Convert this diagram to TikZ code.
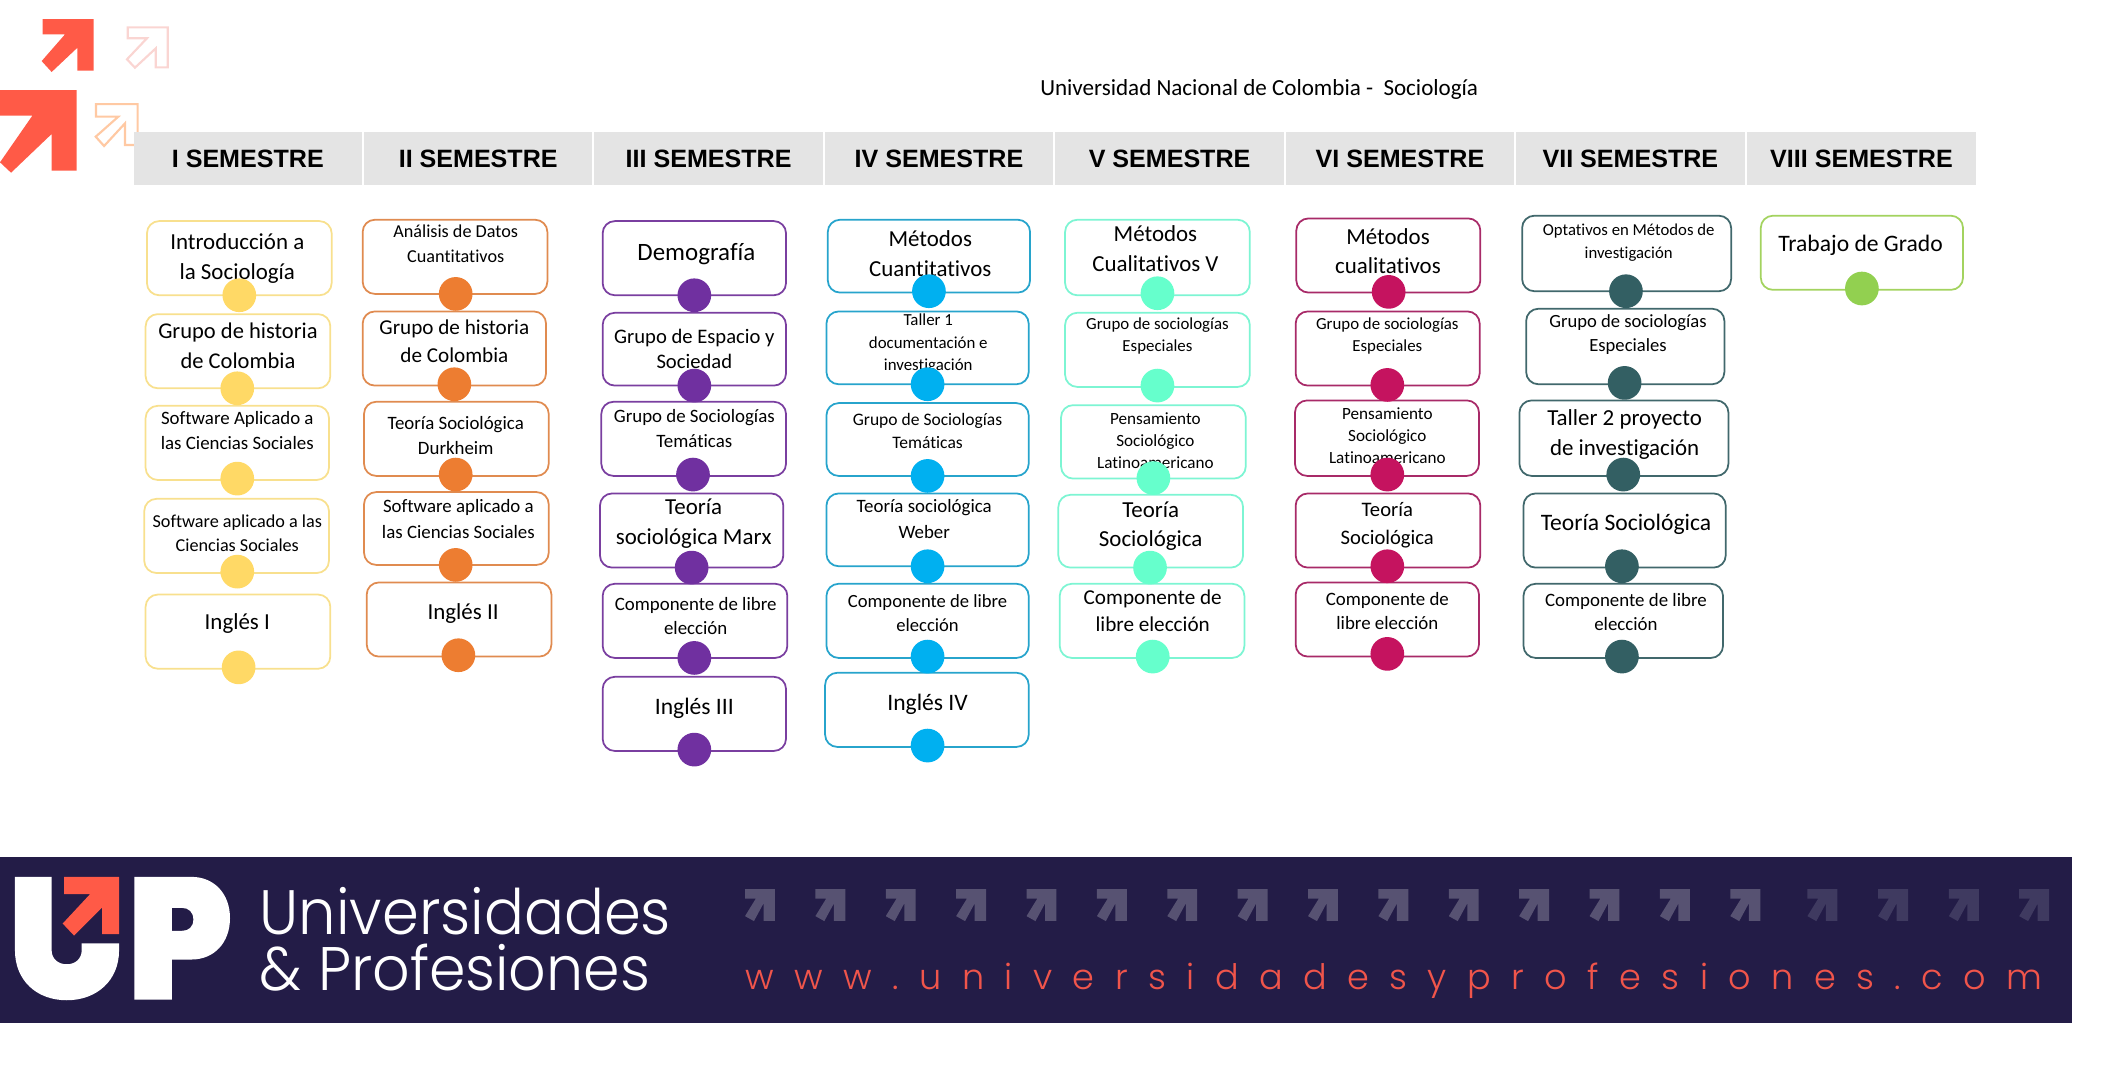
\documentclass[tikz,border=0pt]{standalone}
\usepackage{fontspec}
\setmainfont{Carlito}[Ligatures=NoCommon]
\newfontfamily\headfont{Liberation Sans}
\newfontfamily\popfont{Poppins}[UprightFont=* Light]
\newfontfamily\urlfont{Poppins}[UprightFont=* Light,LetterSpace=58.3]
\definecolor{yelB}{HTML}{F8E08E}\definecolor{yelC}{HTML}{FFD966}
\definecolor{oraB}{HTML}{E08B50}\definecolor{oraC}{HTML}{ED7D31}
\definecolor{purB}{HTML}{7A3FA0}\definecolor{purC}{HTML}{7030A0}
\definecolor{bluB}{HTML}{27A4CC}\definecolor{bluC}{HTML}{00B0F0}
\definecolor{minB}{HTML}{7DF5D3}\definecolor{minC}{HTML}{66FFCC}
\definecolor{magB}{HTML}{A82A68}\definecolor{magC}{HTML}{C5135F}
\definecolor{teaB}{HTML}{41686C}\definecolor{teaC}{HTML}{335F63}
\definecolor{verB}{HTML}{A3D35F}\definecolor{verC}{HTML}{92D050}
\definecolor{bannerC}{HTML}{231C47}
\definecolor{redC}{HTML}{FF5A47}
\definecolor{urlC}{HTML}{F0554B}
\definecolor{greyA}{HTML}{575272}
\definecolor{greyB}{HTML}{3F3A60}
\definecolor{headC}{HTML}{E4E4E4}
\definecolor{paleA}{HTML}{FAD5D2}
\definecolor{paleB}{HTML}{FFC9A3}
\tikzset{
  cajon/.style={rounded corners=9pt,line width=1.3pt,fill=white,inner sep=0pt},
  punto/.style={circle,minimum size=25pt,inner sep=0pt},
  rotulo/.style={inner sep=0pt,align=center,text=black},
  cabeza/.style={fill=headC,inner sep=0pt,minimum height=39pt,minimum width=169.4pt,
    font={\headfont\bfseries\fontsize{18.6}{22}\selectfont}},
}
\newcommand{\caja}[6]{%
  \pgfmathsetmacro{\cw}{#5-#3}\pgfmathsetmacro{\ch}{#6-#4}%
  \pgfmathsetmacro{\cx}{(#5+#3)/2}\pgfmathsetmacro{\cy}{(#6+#4)/2}%
  \node[cajon,draw=#2,minimum width=\cw pt,minimum height=\ch pt] (#1) at (\cx,\cy) {};}
\newcommand{\texto}[6]{%
  \pgfmathsetmacro{\ty}{#3+(#4>=15)*1.8}%
  \node[rotulo,font={\fontsize{#4}{#5}\selectfont}] (#1) at (#2,\ty) {#6};}
\newcommand{\bola}[4]{\node[punto,fill=#2] (#1) at (#3,#4) {};}
\newcommand{\gris}[3]{\fill[#2,shift={(#3,659.5)}] (0,0)--(22.2,0)--(22.2,23.5)--(13.7,23.5)--(13.7,10.6)--(6.6,23.7)--(0,20)--(8,7)--(0,7)--cycle;}
\begin{document}
\begin{tikzpicture}[x=1pt,y=-1pt]
\useasboundingbox (0,0) rectangle (1568,797.4);
% corner arrows
\fill[redC] (31.7,14.1)--(69.5,14.1)--(69.5,52.4)--(57.4,52.4)--(57.4,35.4)--(38.3,53.4)--(30.9,45.3)--(48.2,25.5)--(31.7,25.5)--cycle;
\fill[redC] (0,66.8)--(56.9,66.8)--(56.9,126.6)--(38.3,126.6)--(38.3,99.4)--(8.2,128.1)--(0,120.4)--(24,85.8)--(0,85.8)--cycle;
\draw[line width=1.6pt,draw=paleA] (94.7,20.3)--(124.4,20.3)--(124.4,50)--(115.5,50)--(115.5,35.9)--(100.1,50.2)--(94.2,44)--(109,28.4)--(94.7,28.4)--cycle;
\draw[line width=1.6pt,draw=paleB] (71.2,77.2)--(102.1,77.2)--(102.1,107.6)--(92.7,107.6)--(92.7,91.5)--(77.2,108.3)--(71,101.4)--(87.8,86.5)--(71.2,86.5)--cycle;
% title
\node[rotulo,font={\fontsize{17.1}{20}\selectfont}] (titulo) at (934,66) {Universidad Nacional de Colombia -\ \ Sociología};
% header
\node[cabeza] (h1) at (183.8,117.5) {I SEMESTRE};
\node[cabeza] (h2) at (354.7,117.5) {II SEMESTRE};
\node[cabeza] (h3) at (525.6,117.5) {III SEMESTRE};
\node[cabeza] (h4) at (696.5,117.5) {IV SEMESTRE};
\node[cabeza] (h5) at (867.5,117.5) {V SEMESTRE};
\node[cabeza] (h6) at (1038.4,117.5) {VI SEMESTRE};
\node[cabeza] (h7) at (1209.3,117.5) {VII SEMESTRE};
\node[cabeza] (h8) at (1380.7,117.5) {VIII SEMESTRE};
% column 1
\caja{a1}{yelB}{109}{164}{246}{219}\texto{ta1}{176}{190}{17}{22}{Introducción a\\la Sociología}
\caja{a2}{yelB}{108}{233}{245}{288}\texto{ta2}{176.5}{254.5}{16.7}{22}{Grupo de historia\\de Colombia}
\caja{a3}{yelB}{108}{301}{244}{356}\texto{ta3}{176}{319}{14}{18.5}{Software Aplicado a\\las Ciencias Sociales}
\caja{a4}{yelB}{107}{370}{244}{425}\texto{ta4}{176}{395.5}{13.5}{18.5}{Software aplicado a las\\Ciencias Sociales}
\caja{a5}{yelB}{108}{441}{245}{496}\texto{ta5}{176}{461}{17}{22}{Inglés I}
% column 2
\caja{b1}{oraB}{269}{163}{406}{218}\texto{tb1}{338}{181}{13.5}{18.5}{Análisis de Datos\\Cuantitativos}
\caja{b2}{oraB}{269}{231}{405}{286}\texto{tb2}{337}{251.5}{15.7}{20.5}{Grupo de historia\\de Colombia}
\caja{b3}{oraB}{270}{298}{407}{353}\texto{tb3}{338}{323}{14}{19}{Teoría Sociológica\\Durkheim}
\caja{b4}{oraB}{270}{365}{407}{419}\texto{tb4}{340}{385}{14}{19}{Software aplicado a\\las Ciencias Sociales}
\caja{b5}{oraB}{272}{432}{409}{487}\texto{tb5}{343.5}{453.5}{17}{22}{Inglés II}
% column 3
\caja{c1}{purB}{447}{164}{583}{219}\texto{tc1}{516.5}{187}{18.5}{22}{Demografía}
\caja{c2}{purB}{447}{232}{583}{286}\texto{tc2}{515}{257}{15.3}{19}{Grupo de Espacio y\\Sociedad}
\caja{c3}{purB}{446}{298}{583}{353}\texto{tc3}{515}{318}{14}{18.5}{Grupo de Sociologías\\Temáticas}
\caja{c4}{purB}{445}{366}{581}{421}\texto{tc4}{514.5}{386.5}{17}{22}{Teoría\\sociológica Marx}
\caja{c5}{purB}{447}{433}{584}{488}\texto{tc5}{516}{457}{14}{18}{Componente de libre\\elección}
\caja{c6}{purB}{447}{502}{583}{557}\texto{tc6}{515}{523.5}{17.5}{22}{Inglés III}
% column 4
\caja{d1}{bluB}{614}{163}{764}{217}\texto{td1}{690}{186.5}{17}{22}{Métodos\\Cuantitativos}
\caja{d2}{bluB}{613}{231}{763}{285}\texto{td2}{688.5}{255}{12.5}{16.5}{Taller 1\\documentación e\\investigación}
\caja{d3}{bluB}{613}{299}{763}{353}\texto{td3}{688}{320}{13}{17}{Grupo de Sociologías\\Temáticas}
\caja{d4}{bluB}{613}{366}{763}{420}\texto{td4}{685.5}{385}{14}{19}{Teoría sociológica\\Weber}
\caja{d5}{bluB}{613}{433}{763}{488}\texto{td5}{688}{455}{13.8}{18}{Componente de libre\\elección}
\caja{d6}{bluB}{612}{499}{763}{554}\texto{td6}{688}{520.5}{17.5}{22}{Inglés IV}
% column 5
\caja{e1}{minB}{790}{163}{927}{219}\texto{te1}{857}{182.5}{17}{22}{Métodos\\Cualitativos V}
\caja{e2}{minB}{790}{232}{927}{287}\texto{te2}{858.5}{249}{12.5}{16.5}{Grupo de sociologías\\Especiales}
\caja{e3}{minB}{787}{300.5}{924}{355}\texto{te3}{857}{327}{12.7}{16.5}{Pensamiento\\Sociológico\\Latinoamericano}
\caja{e4}{minB}{785}{367}{922}{421}\texto{te4}{853.5}{388.5}{17}{22}{Teoría\\Sociológica}
\caja{e5}{minB}{786}{433}{923}{488}\texto{te5}{855}{451.5}{15.7}{20}{Componente de\\libre elección}
% column 6
\caja{f1}{magB}{961.5}{162}{1098}{217}\texto{tf1}{1029.5}{184.5}{17}{22}{Métodos\\cualitativos}
\caja{f2}{magB}{961}{231}{1097.5}{286}\texto{tf2}{1029}{249}{12.5}{16.5}{Grupo de sociologías\\Especiales}
\caja{f3}{magB}{960.5}{297}{1097}{353}\texto{tf3}{1029}{323}{12.7}{16.5}{Pensamiento\\Sociológico\\Latinoamericano}
\caja{f4}{magB}{961}{366}{1098}{421}\texto{tf4}{1029}{388}{15.3}{20.5}{Teoría\\Sociológica}
\caja{f5}{magB}{961}{432}{1097}{487}\texto{tf5}{1029}{453}{14}{18}{Componente de\\libre elección}
% column 7
\caja{g1}{teaB}{1129}{160}{1284}{216}\texto{tg1}{1208}{180}{12.4}{17}{Optativos en Métodos de\\investigación}
\caja{g2}{teaB}{1132}{229}{1279}{285}\texto{tg2}{1207.5}{248}{13.8}{18}{Grupo de sociologías\\Especiales}
\caja{g3}{teaB}{1127}{297}{1282}{353}\texto{tg3}{1205}{320.5}{17}{22}{Taller 2 proyecto\\de investigación}
\caja{g4}{teaB}{1130}{366}{1280}{421}\texto{tg4}{1206}{387}{17.5}{22}{Teoría Sociológica}
\caja{g5}{teaB}{1130}{433}{1278}{488}\texto{tg5}{1206}{454}{14}{18}{Componente de libre\\elección}
% column 8
\caja{k1}{verB}{1306}{160}{1456}{215}\texto{tk1}{1380}{180}{17.5}{22}{Trabajo de Grado}
% dots
\bola{pa1}{yelC}{177.5}{219}\bola{pa2}{yelC}{176}{288}\bola{pa3}{yelC}{176}{355}\bola{pa4}{yelC}{176}{424}\bola{pa5}{yelC}{177}{495}
\bola{pb1}{oraC}{338}{218}\bola{pb2}{oraC}{337}{285}\bola{pb3}{oraC}{338}{352}\bola{pb4}{oraC}{338}{419}\bola{pb5}{oraC}{340}{486}
\bola{pc1}{purC}{515}{219}\bola{pc2}{purC}{515}{286}\bola{pc3}{purC}{514}{352}\bola{pc4}{purC}{513}{421}\bola{pc5}{purC}{515}{488}\bola{pc6}{purC}{515}{556}
\bola{pd1}{bluC}{689}{216}\bola{pd2}{bluC}{688}{285}\bola{pd3}{bluC}{688}{353}\bola{pd4}{bluC}{688}{420}\bola{pd5}{bluC}{688}{487}\bola{pd6}{bluC}{688}{553}
\bola{pe1}{minC}{858.5}{217.5}\bola{pe2}{minC}{858.5}{286}\bola{pe3}{minC}{855.5}{354.6}\bola{pe4}{minC}{853}{421}\bola{pe5}{minC}{855}{487}
\bola{pf1}{magC}{1030}{216.5}\bola{pf2}{magC}{1029}{285.5}\bola{pf3}{magC}{1029}{352}\bola{pf4}{magC}{1029}{420}\bola{pf5}{magC}{1029}{485}
\bola{pg1}{teaC}{1206}{216}\bola{pg2}{teaC}{1205}{284}\bola{pg3}{teaC}{1204}{352}\bola{pg4}{teaC}{1203}{420}\bola{pg5}{teaC}{1203}{487}
\bola{pk1}{verC}{1381}{214}
% banner
\fill[bannerC] (0,635.6) rectangle (1536.5,758.7);
\fill[white] (11.1,650.4)--(38.3,650.4)--(38.3,704.8) .. controls (38.3,711) and (43,715.2) .. (49.5,715.2) .. controls (56,715.2) and (60.6,711) .. (60.6,704.8)--(60.6,699.8)--(88.3,699.8)--(88.3,705) .. controls (88.3,727) and (72,741.9) .. (49.5,741.9) .. controls (27,741.9) and (11.1,727) .. (11.1,705)--cycle;
\fill[white,even odd rule] (99.7,650.4)--(142,650.4) .. controls (159,650.4) and (170.6,663) .. (170.6,681) .. controls (170.6,699) and (159,711.7) .. (142,711.7)--(127.4,711.7)--(127.4,741.4)--(99.7,741.4)--cycle
 (127.4,673.4)--(135,673.4) .. controls (140,673.4) and (143.4,676.5) .. (143.4,682) .. controls (143.4,687.5) and (140,690.4) .. (135,690.4)--(127.4,690.4)--cycle;
\fill[redC] (47.5,650.4)--(88.3,650.4)--(88.3,692.9)--(75.7,692.9)--(75.7,673.1)--(54.9,693.9)--(46.5,685)--(66.8,663.2)--(47.5,663.2)--cycle;
\node[anchor=base west,inner sep=0pt,text=white] (univ) at (192.5,692.9) {\resizebox{305pt}{35pt}{\popfont Universidades}};
\node[anchor=base west,inner sep=0pt,text=white] (prof) at (192.5,734.4) {\resizebox{289.5pt}{34.5pt}{\popfont \& Profesiones}};
\gris{1}{greyA}{552.6}\gris{2}{greyA}{604.8}\gris{3}{greyA}{657}\gris{4}{greyA}{709.2}\gris{5}{greyA}{761.4}
\gris{6}{greyA}{813.6}\gris{7}{greyA}{865.8}\gris{8}{greyA}{918}\gris{9}{greyA}{970.2}\gris{10}{greyA}{1022.4}
\gris{11}{greyA}{1074.6}\gris{12}{greyA}{1126.8}\gris{13}{greyA}{1179}\gris{14}{greyA}{1231.2}\gris{15}{greyA}{1283.4}
\gris{16}{greyB}{1340.6}\gris{17}{greyB}{1393}\gris{18}{greyB}{1445.5}\gris{19}{greyB}{1497.7}
\node[anchor=base west,inner sep=0pt,text=urlC,font={\urlfont\fontsize{26}{30}\selectfont}] (url) at (553,733.9) {www.universidadesyprofesiones.com};
\end{tikzpicture}
\end{document}
